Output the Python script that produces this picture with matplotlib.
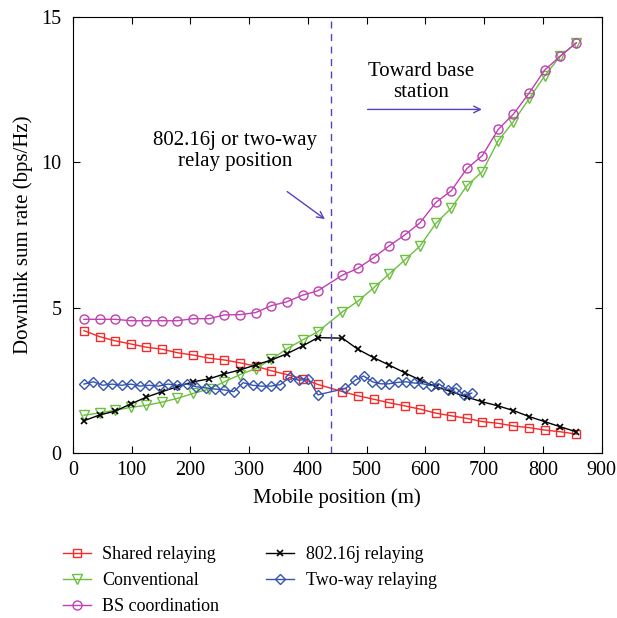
import numpy as np
import matplotlib
matplotlib.use('Agg')
import matplotlib.pyplot as plt

plt.rcParams['font.family'] = ['Liberation Serif', 'DejaVu Serif']

# mobile positions (m), same for the first four curves
pos = [19, 46, 72, 99, 125, 152, 178, 205, 232, 258, 285, 311, 338, 364, 391, 417,
       459, 485, 512, 538, 565, 591, 618, 644, 671, 697, 724, 750, 777, 803, 830, 857]

shared = [4.21, 4.00, 3.86, 3.75, 3.64, 3.57, 3.45, 3.37, 3.26, 3.20, 3.10, 2.99, 2.83, 2.70, 2.55, 2.36,
          2.11, 1.97, 1.85, 1.73, 1.62, 1.51, 1.37, 1.28, 1.19, 1.08, 1.02, 0.93, 0.87, 0.79, 0.73, 0.65]
conventional = [1.30, 1.38, 1.47, 1.57, 1.64, 1.75, 1.88, 2.05, 2.20, 2.45, 2.70, 2.90, 3.22, 3.58, 3.89, 4.17,
                4.86, 5.22, 5.68, 6.15, 6.64, 7.12, 7.90, 8.42, 9.20, 9.68, 10.74, 11.40, 12.20, 12.97, 13.66, 14.11]
bs_coord = [4.60, 4.60, 4.60, 4.55, 4.55, 4.55, 4.55, 4.62, 4.62, 4.75, 4.76, 4.83, 5.07, 5.20, 5.43, 5.58,
            6.12, 6.35, 6.72, 7.12, 7.50, 7.92, 8.62, 9.02, 9.79, 10.23, 11.13, 11.66, 12.39, 13.17, 13.66, 14.11]
relay_16j = [1.11, 1.31, 1.44, 1.69, 1.92, 2.11, 2.28, 2.45, 2.55, 2.72, 2.86, 3.03, 3.20, 3.41, 3.68, 3.97,
             3.95, 3.57, 3.28, 3.03, 2.76, 2.51, 2.28, 2.11, 1.92, 1.76, 1.62, 1.46, 1.25, 1.08, 0.90, 0.73]

# two-way relaying has its own (denser) positions
pos_tw = [19, 35, 51, 67, 83, 99, 114, 130, 146, 162, 178, 194, 210, 226, 242, 258, 274, 290, 306, 321,
          337, 353, 369, 385, 401, 417,
          464, 481, 495, 510, 524, 538, 553, 567, 580, 596, 609, 623, 638, 652, 665, 679]
two_way = [2.37, 2.45, 2.33, 2.37, 2.33, 2.37, 2.30, 2.33, 2.30, 2.37, 2.33, 2.37, 2.28, 2.24, 2.20, 2.17,
           2.11, 2.42, 2.33, 2.30, 2.30, 2.35, 2.60, 2.50, 2.55, 2.00,
           2.22, 2.51, 2.65, 2.45, 2.38, 2.38, 2.43, 2.45, 2.41, 2.38, 2.32, 2.38, 2.18, 2.24, 2.00, 2.06]

relay_x = 439
ann_col = '#5a40c0'

fig = plt.figure(figsize=(6.17, 6.18), dpi=100)
ax = fig.add_axes([0.118, 0.267, 0.857, 0.7055])

ax.plot(pos, shared, '-s', color='#f52a2a', mfc='none', ms=6, lw=1, label='Shared relaying')
ax.plot(pos, conventional, '-v', color='#6cc040', mfc='none', ms=6.5, lw=1, label='Conventional')
ax.plot(pos, bs_coord, '-o', color='#c040b0', mfc='none', ms=6.5, lw=1, label='BS coordination')
ax.plot(pos, relay_16j, '-x', color='black', ms=5, mew=1.2, lw=1, label='802.16j relaying')
ax.plot(pos_tw, two_way, '-D', color='#3553b0', mfc='none', ms=5, lw=1, label='Two-way relaying')

ax.axvline(relay_x, color=ann_col, ls=(0, (5, 4)), lw=1)

ax.text(276, 10.4, '802.16j or two-way\nrelay position', ha='center', va='center',
        fontsize=15, linespacing=1.15)
ax.annotate('', xy=(433, 7.99), xytext=(361, 9.05),
            arrowprops=dict(arrowstyle='->', color=ann_col, lw=1, mutation_scale=12))
ax.text(593, 12.77, 'Toward base\nstation', ha='center', va='center',
        fontsize=15, linespacing=1.15)
ax.annotate('', xy=(701, 11.82), xytext=(497, 11.82),
            arrowprops=dict(arrowstyle='->', color=ann_col, lw=1, mutation_scale=12))

ax.set_xlim(0, 900)
ax.set_ylim(0, 15)
ax.set_xticks(np.arange(0, 901, 100))
ax.set_yticks([0, 5, 10, 15])
ax.tick_params(direction='in', top=True, right=True, labelsize=14.5, length=5)
ax.tick_params(axis='x', pad=6)
ax.tick_params(axis='y', pad=8)
ax.set_xlabel('Mobile position (m)', fontsize=15, labelpad=6)
ax.set_ylabel('Downlink sum rate (bps/Hz)', fontsize=15, labelpad=6)

fig.legend(loc='upper left', bbox_to_anchor=(0.075, 0.143), ncol=2, frameon=False,
           fontsize=13, handlelength=1.55, handletextpad=0.65, columnspacing=2.6,
           labelspacing=0.5)

fig.savefig('out.png', dpi=100)
